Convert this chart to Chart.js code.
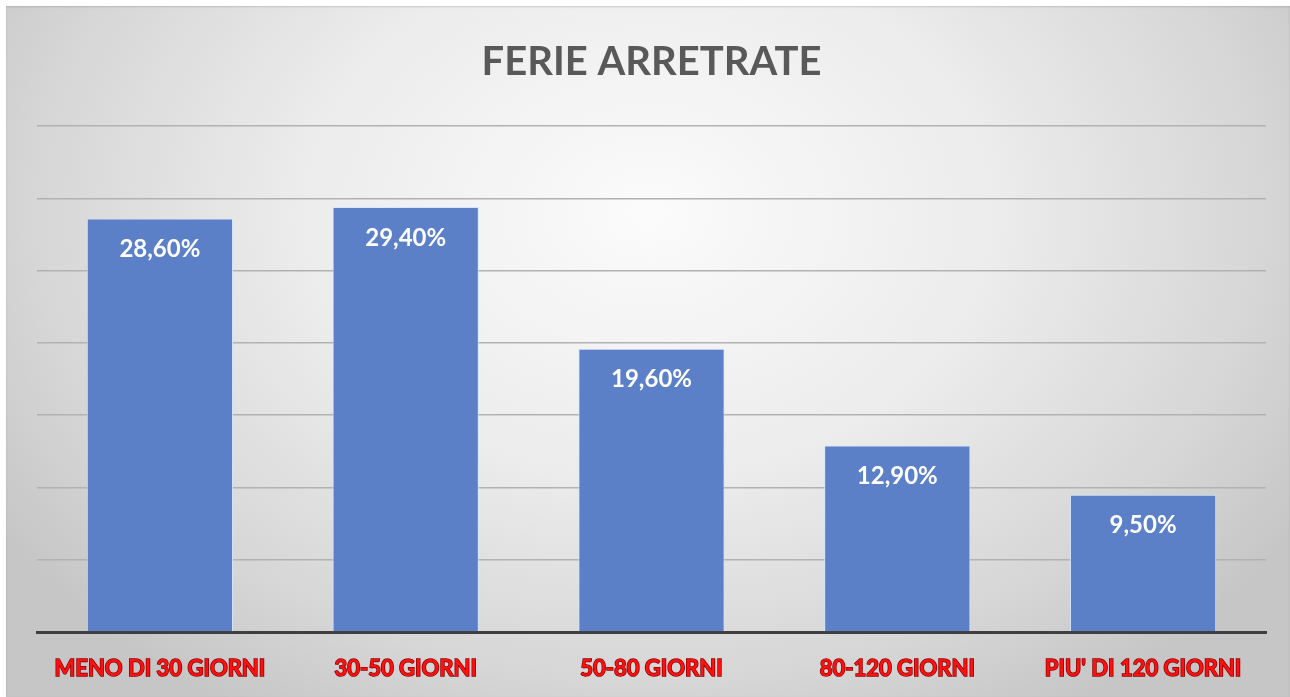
<!DOCTYPE html>
<html>
<head>
<meta charset="utf-8">
<script src="https://cdn.jsdelivr.net/npm/chart.js@4.4.0/dist/chart.umd.min.js"></script>
<style>
  html, body { margin: 0; padding: 0; background: #ffffff; }
  .frame {
    position: absolute; left: 6px; top: 6px; width: 1284px; height: 691px;
    background: radial-gradient(ellipse 60% 85% at 50% 30%, #fbfbfb 0%, #ececec 45%, #d6d6d6 80%, #c6c6c6 100%);
    box-shadow: inset 0 1px 2px rgba(0,0,0,0.15);
  }
</style>
</head>
<body>
<div class="frame"><canvas id="ferie-chart" width="1284" height="691"></canvas></div>
<script>
// data
const categories = ["MENO DI 30 GIORNI", "30-50 GIORNI", "50-80 GIORNI", "80-120 GIORNI", "PIU' DI 120 GIORNI"];
const percentages = [28.6, 29.4, 19.6, 12.9, 9.5];
const yTicks = [0, 5, 10, 15, 20, 25, 30, 35];

// draws the value text inside the top of each bar
const barValueLabels = {
  id: "barValueLabels",
  afterDatasetsDraw(chart) {
    const ctx = chart.ctx;
    const meta = chart.getDatasetMeta(0);
    ctx.save();
    ctx.font = "bold 24px Lato, 'Open Sans', sans-serif";
    ctx.fillStyle = "#ffffff";
    ctx.textAlign = "center";
    ctx.textBaseline = "middle";
    meta.data.forEach((bar, i) => {
      const txt = percentages[i].toFixed(2).replace(".", ",") + "%";
      ctx.fillText(txt, bar.x, bar.y + 31);
    });
    ctx.restore();
  }
};

const ctx = document.getElementById("ferie-chart").getContext("2d");
new Chart(ctx, {
  type: "bar",
  data: {
    labels: categories,
    datasets: [{
      data: percentages,
      backgroundColor: "#5b80c7",
      borderColor: "rgba(215, 228, 248, 0.9)",
      borderWidth: 1,
      categoryPercentage: 1,
      barPercentage: 0.595
    }]
  },
  options: {
    responsive: false,
    animation: false,
    layout: { padding: { left: 31, right: 24, top: 0, bottom: 0 } },
    plugins: {
      legend: { display: false },
      tooltip: { enabled: false },
      title: {
        display: true,
        text: "FERIE ARRETRATE",
        color: "#595959",
        font: { family: "Lato, 'Open Sans', sans-serif", size: 40, weight: "bold" },
        padding: { top: 32, bottom: 40 }
      }
    },
    scales: {
      x: {
        grid: { display: false, drawTicks: false },
        border: { display: true, color: "#3f3f3f", width: 3 },
        afterFit: (axis) => { axis.height = 65; },
        ticks: {
          color: "#ff1010",
          textStrokeColor: "#8a0000",
          textStrokeWidth: 1.5,
          padding: 24,
          maxRotation: 0,
          font: { family: "Lato, 'Open Sans', sans-serif", size: 22, weight: "bold" }
        }
      },
      y: {
        min: yTicks[0],
        max: yTicks[yTicks.length - 1],
        afterBuildTicks: (axis) => { axis.ticks = yTicks.map(v => ({ value: v })); },
        grid: { color: "#b2b2b2", lineWidth: 1.5, drawTicks: false },
        border: { display: false },
        ticks: { display: false }
      }
    }
  },
  plugins: [barValueLabels]
});
</script>
</body>
</html>
